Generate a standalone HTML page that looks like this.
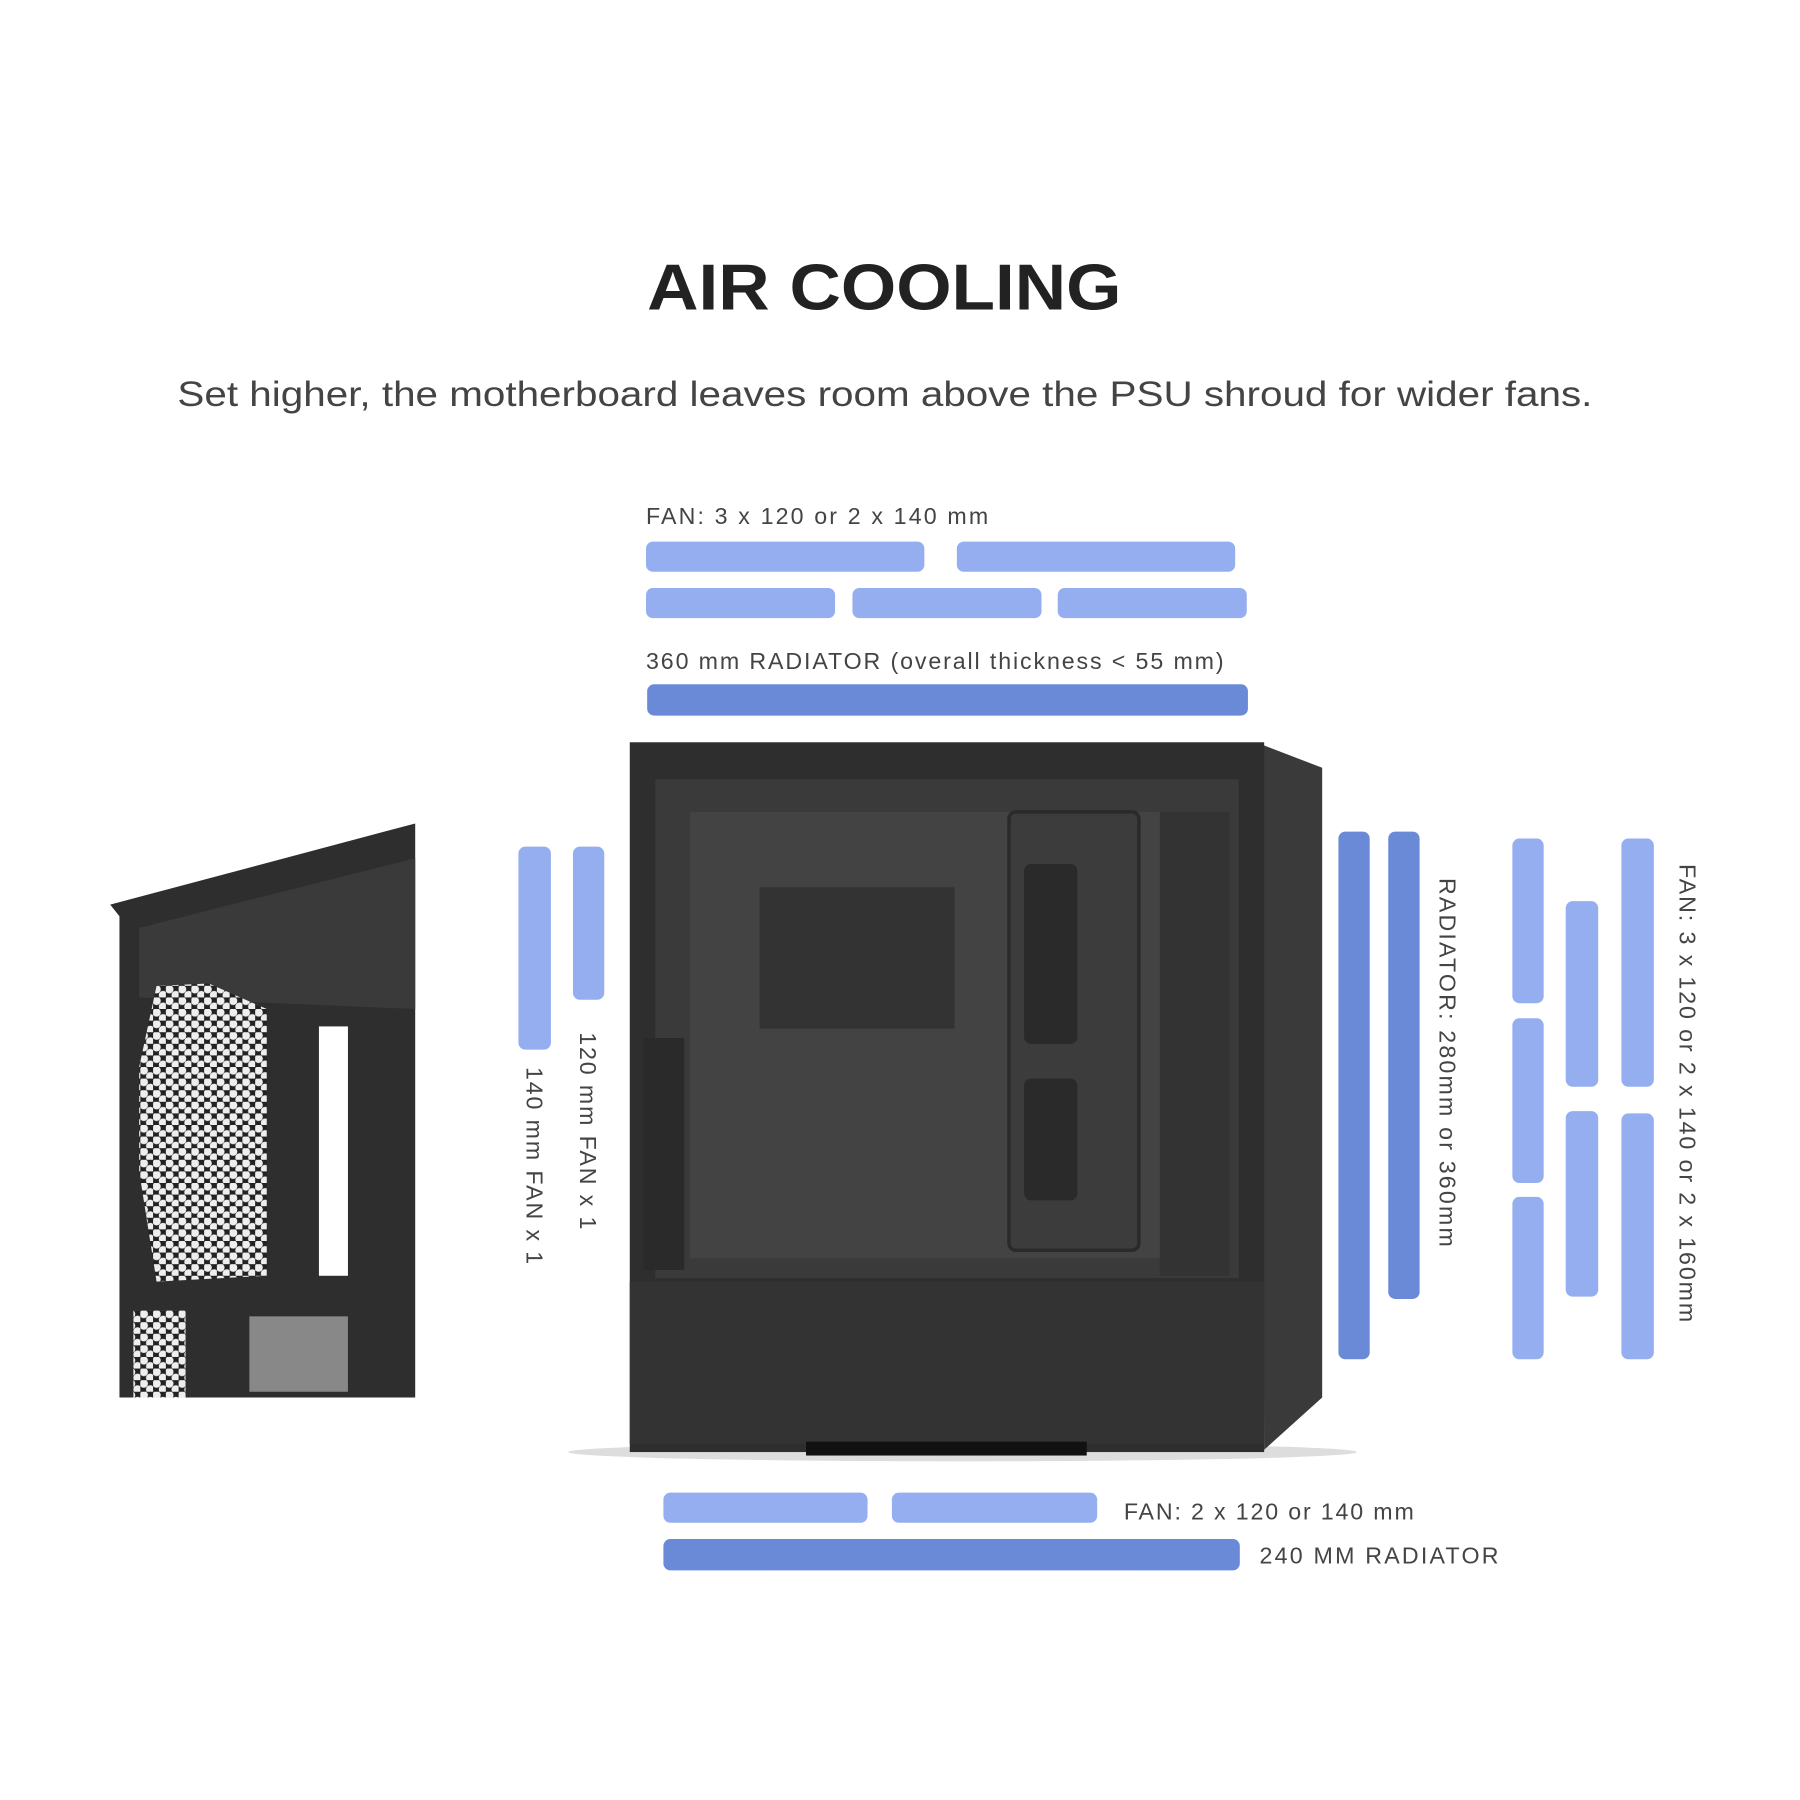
<!DOCTYPE html>
<html><head><meta charset="utf-8"><style>
html,body{margin:0;padding:0;background:#fff;width:1800px;height:1800px;overflow:hidden}
svg{display:block}
text{font-family:"Liberation Sans",sans-serif}
</style></head><body>
<svg width="1800" height="1800" viewBox="0 0 1552 1552" xmlns="http://www.w3.org/2000/svg">
<defs>
<pattern id="mesh" width="11" height="10" patternUnits="userSpaceOnUse">
<rect width="11" height="10" fill="#222"/>
<circle cx="3" cy="3" r="3.6" fill="#eee"/>
<circle cx="8.5" cy="8" r="3.6" fill="#eee"/>
</pattern>
</defs>
<rect width="1552" height="1552" fill="#fff"/>
<text x="558" y="267" textLength="409" lengthAdjust="spacingAndGlyphs" font-size="56" font-weight="bold" fill="#222">AIR COOLING</text>
<text x="153" y="350" textLength="1220" lengthAdjust="spacingAndGlyphs" font-size="30" fill="#444">Set higher, the motherboard leaves room above the PSU shroud for wider fans.</text>

<g font-size="20" fill="#444">
<text x="557" y="452" textLength="295">FAN: 3 x 120  or 2 x 140 mm</text>
<text x="557" y="577" textLength="498">360 mm RADIATOR (overall thickness &lt; 55 mm)</text>
<text x="969" y="1310" textLength="250">FAN: 2 x 120 or 140 mm</text>
<text x="1086" y="1348" textLength="206">240 MM RADIATOR</text>
<text transform="translate(500,890) rotate(90)" textLength="170">120 mm FAN x 1</text>
<text transform="translate(454,920) rotate(90)" textLength="170">140 mm FAN x 1</text>
<text transform="translate(1241,757) rotate(90)" textLength="318">RADIATOR: 280mm or 360mm</text>
<text transform="translate(1448,745) rotate(90)" textLength="395">FAN: 3 x 120  or 2 x 140 or 2 x 160mm</text>
</g>

<g fill="#94aef0">
<rect x="557" y="467" width="240" height="26" rx="6"/>
<rect x="825" y="467" width="240" height="26" rx="6"/>
<rect x="557" y="507" width="163" height="26" rx="6"/>
<rect x="735" y="507" width="163" height="26" rx="6"/>
<rect x="912" y="507" width="163" height="26" rx="6"/>
<rect x="572" y="1287" width="176" height="26" rx="6"/>
<rect x="769" y="1287" width="177" height="26" rx="6"/>
<rect x="447" y="730" width="28" height="175" rx="6"/>
<rect x="494" y="730" width="27" height="132" rx="6"/>
<rect x="1304" y="723" width="27" height="142" rx="6"/>
<rect x="1304" y="878" width="27" height="142" rx="6"/>
<rect x="1304" y="1032" width="27" height="140" rx="6"/>
<rect x="1350" y="777" width="28" height="160" rx="6"/>
<rect x="1350" y="958" width="28" height="160" rx="6"/>
<rect x="1398" y="723" width="28" height="214" rx="6"/>
<rect x="1398" y="960" width="28" height="212" rx="6"/>
</g>
<g fill="#6a8ad8">
<rect x="558" y="590" width="518" height="27" rx="6"/>
<rect x="572" y="1327" width="497" height="27" rx="6"/>
<rect x="1154" y="717" width="27" height="455" rx="6"/>
<rect x="1197" y="717" width="27" height="403" rx="6"/>
</g>

<!-- case -->
<ellipse cx="830" cy="1252" rx="340" ry="8" fill="#ddd"/>
<polygon points="1088,642 1140,662 1140,1205 1090,1250" fill="#3a3a3a"/>
<rect x="543" y="640" width="547" height="612" fill="#2e2e2e"/>
<rect x="565" y="672" width="503" height="430" fill="#3a3a3a"/>
<rect x="595" y="700" width="420" height="385" fill="#434343"/>
<rect x="655" y="765" width="168" height="122" fill="#333"/>
<rect x="870" y="700" width="112" height="378" rx="6" fill="#3c3c3c" stroke="#2a2a2a" stroke-width="3"/>
<rect x="883" y="745" width="46" height="155" rx="6" fill="#2a2a2a"/>
<rect x="883" y="930" width="46" height="105" rx="6" fill="#2a2a2a"/>
<rect x="555" y="895" width="35" height="200" fill="#2a2a2a"/>
<rect x="1000" y="700" width="60" height="400" fill="#333"/>
<rect x="543" y="1105" width="547" height="140" fill="#333"/>
<rect x="695" y="1243" width="242" height="12" fill="#111"/>

<!-- left image -->
<polygon points="95,780 358,710 358,1205 103,1205 103,790" fill="#2e2e2e"/>
<polygon points="120,800 358,740 358,870 120,860" fill="#3a3a3a"/>
<polygon points="135,850 180,848 230,870 230,1100 135,1105 120,1010 120,920" fill="url(#mesh)"/>
<rect x="115" y="1130" width="45" height="75" fill="url(#mesh)"/>
<rect x="215" y="1135" width="85" height="65" fill="#888"/>
<rect x="275" y="885" width="25" height="215" fill="#fff"/>
</svg>
</body></html>
